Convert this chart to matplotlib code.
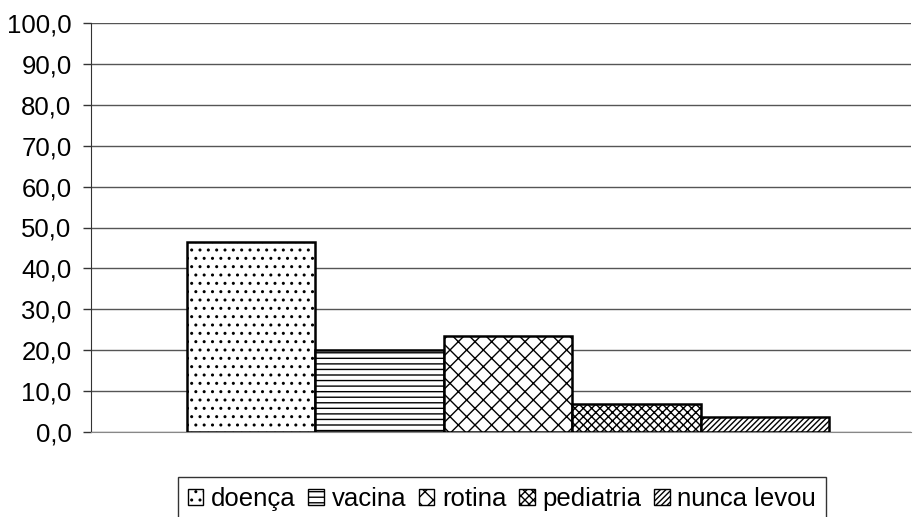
import numpy as np
import matplotlib.pyplot as plt

plt.rcParams['font.family'] = ['Liberation Sans', 'DejaVu Sans']
plt.rcParams['hatch.linewidth'] = 1.0

series = ["doença", "vacina", "rotina", "pediatria", "nunca levou"]
values = [46.5, 20.0, 23.5, 6.8, 3.7]
hatches = ['..', '---', 'xx', 'xxxx', '//////']

fig = plt.figure(figsize=(9.13, 5.17), dpi=100)
ax = fig.add_axes([91 / 913, 1 - 432 / 517, 820 / 913, 409 / 517])

w = 0.1566
start = 0.117 - 0.5 + w / 2
for i, (name, v, h) in enumerate(zip(series, values, hatches)):
    ax.bar(start + i * w, v, width=w, facecolor='white', edgecolor='black',
           hatch=h, linewidth=1.8, label=name, zorder=3)

ax.set_xlim(-0.5, 0.5)
ax.set_ylim(0, 100)
ax.set_yticks(np.arange(0, 101, 10))
ax.set_yticklabels([f"{t:.1f}".replace('.', ',') for t in np.arange(0, 101, 10)], fontsize=18.5)
ax.set_xticks([])
ax.yaxis.grid(True, color='#555555', linewidth=1)
ax.set_axisbelow(True)
ax.tick_params(axis='y', length=6, width=1, color='#333333', pad=8)
for s in ['top', 'right']:
    ax.spines[s].set_visible(False)
ax.spines['left'].set_color('#333333')
ax.spines['bottom'].set_color('#888888')

leg = fig.legend(loc='upper center', bbox_to_anchor=(502 / 913, 1 - 464 / 517), ncol=5,
                 fontsize=18.5, handlelength=0.6, handleheight=0.6, handletextpad=0.3,
                 columnspacing=0.5, fancybox=False, framealpha=1, borderpad=0.4)
leg.get_frame().set_edgecolor('#333333')
leg.get_frame().set_linewidth(1)
for hnd in leg.legend_handles:
    hnd.set_linewidth(1)

fig.savefig('out.png', dpi=100)
